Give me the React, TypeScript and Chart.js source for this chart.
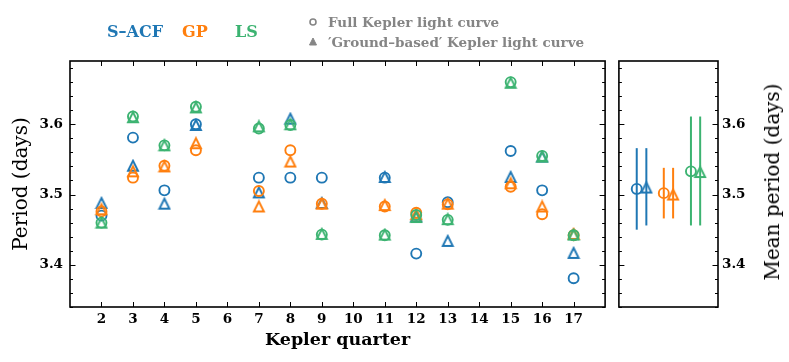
import React, { useEffect, useRef } from 'react';
import { Chart, registerables } from 'chart.js';

Chart.register(...registerables);

// ---------- data ----------
const quarters = [2, 3, 4, 5, 7, 8, 9, 11, 12, 13, 15, 16, 17];
const acfFull = [3.470, 3.581, 3.506, 3.600, 3.524, 3.524, 3.524, 3.524, 3.416, 3.489, 3.562, 3.506, 3.381];
const acfGround = [3.488, 3.541, 3.487, 3.599, 3.503, 3.608, 3.488, 3.525, 3.469, 3.434, 3.525, 3.554, 3.417];
const gpFull = [3.476, 3.524, 3.541, 3.563, 3.505, 3.563, 3.487, 3.483, 3.474, 3.486, 3.511, 3.472, 3.442];
const gpGround = [3.479, 3.533, 3.540, 3.573, 3.483, 3.547, 3.487, 3.485, 3.472, 3.487, 3.516, 3.483, 3.444];
const lsFull = [3.460, 3.611, 3.570, 3.625, 3.594, 3.599, 3.443, 3.442, 3.471, 3.464, 3.660, 3.555, 3.442];
const lsGround = [3.460, 3.610, 3.570, 3.624, 3.597, 3.600, 3.444, 3.443, 3.468, 3.465, 3.659, 3.554, 3.443];

const xTickValues = [2, 3, 4, 5, 6, 7, 8, 9, 10, 11, 12, 13, 14, 15, 16, 17];
const yTickValues = [3.4, 3.5, 3.6];

// mean panel: order = S-ACF full, S-ACF ground, GP full, GP ground, LS full, LS ground
const meanPositions = [0.18, 0.277, 0.453, 0.547, 0.727, 0.82];
const meanValues = [3.508, 3.510, 3.502, 3.500, 3.533, 3.532];
const meanLow = [3.450, 3.456, 3.466, 3.466, 3.456, 3.456];
const meanHigh = [3.566, 3.566, 3.538, 3.538, 3.611, 3.611];

const methodNames = ['S\u2013ACF', 'GP', 'LS'];
const curveNames = ['Full Kepler light curve', '\u2032Ground\u2013based\u2032 Kepler light curve'];

// ---------- styles ----------
const BLUE = '#1f77b4';
const ORANGE = '#ff7f0e';
const GREEN = '#3cb371';
const GREY = '#858585';
const methodColors = [BLUE, ORANGE, GREEN];
const meanColors = [BLUE, BLUE, ORANGE, ORANGE, GREEN, GREEN];
const meanIsTriangle = [false, true, false, true, false, true];

const Y_MIN = 3.34;
const Y_MAX = 3.69;
const SERIF = "'DejaVu Serif', 'Liberation Serif', serif";

function triangleImage(color: string): HTMLCanvasElement {
  const c = document.createElement('canvas');
  c.width = 14;
  c.height = 14;
  const ctx = c.getContext('2d')!;
  ctx.strokeStyle = color;
  ctx.lineWidth = 1.9;
  ctx.lineJoin = 'miter';
  ctx.beginPath();
  ctx.moveTo(7, 2);
  ctx.lineTo(12, 12);
  ctx.lineTo(2, 12);
  ctx.closePath();
  ctx.stroke();
  return c;
}

function drawYTicks(ctx: CanvasRenderingContext2D, y: any, left: number, right: number) {
  for (let k = 167; k <= 184; k++) {
    const v = k * 0.02;
    if (v < Y_MIN - 1e-9 || v > Y_MAX + 1e-9) continue;
    const p = Math.round(y.getPixelForValue(v)) + 0.5;
    const len = k % 5 === 0 ? 5.5 : 3;
    ctx.beginPath();
    ctx.moveTo(left, p);
    ctx.lineTo(left + len, p);
    ctx.moveTo(right, p);
    ctx.lineTo(right - len, p);
    ctx.stroke();
  }
}

const leftFramePlugin = {
  id: 'leftFrame',
  afterDatasetsDraw(chart: any) {
    const { ctx, chartArea: a, scales } = chart;
    ctx.save();
    ctx.strokeStyle = '#000';
    ctx.lineWidth = 1;
    drawYTicks(ctx, scales.y, a.left, a.right);
    xTickValues.forEach((v) => {
      const p = Math.round(scales.x.getPixelForValue(v)) + 0.5;
      ctx.beginPath();
      ctx.moveTo(p, a.bottom);
      ctx.lineTo(p, a.bottom - 5);
      ctx.moveTo(p, a.top);
      ctx.lineTo(p, a.top + 5);
      ctx.stroke();
    });
    ctx.lineWidth = 1.6;
    ctx.strokeRect(a.left, a.top, a.right - a.left, a.bottom - a.top);
    ctx.restore();
  },
};

const rightFramePlugin = {
  id: 'rightFrame',
  beforeDatasetsDraw(chart: any) {
    const { ctx, scales } = chart;
    ctx.save();
    ctx.lineWidth = 2;
    meanPositions.forEach((p, i) => {
      const px = scales.x.getPixelForValue(p);
      ctx.strokeStyle = meanColors[i];
      ctx.beginPath();
      ctx.moveTo(px, scales.y.getPixelForValue(meanLow[i]));
      ctx.lineTo(px, scales.y.getPixelForValue(meanHigh[i]));
      ctx.stroke();
    });
    ctx.restore();
  },
  afterDatasetsDraw(chart: any) {
    const { ctx, chartArea: a, scales } = chart;
    ctx.save();
    ctx.strokeStyle = '#000';
    ctx.lineWidth = 1;
    drawYTicks(ctx, scales.y, a.left, a.right);
    ctx.lineWidth = 1.6;
    ctx.strokeRect(a.left, a.top, a.right - a.left, a.bottom - a.top);
    ctx.restore();
  },
};

export default function App() {
  const leftRef = useRef<HTMLCanvasElement>(null);
  const rightRef = useRef<HTMLCanvasElement>(null);

  useEffect(() => {
    const triangles = methodColors.map((c) => triangleImage(c));
    const circleSet = (data: number[], color: string) => ({
      data: quarters.map((q, i) => ({ x: q, y: data[i] })),
      pointStyle: 'circle',
      pointRadius: 5,
      pointBorderWidth: 1.9,
      pointBorderColor: color,
      pointBackgroundColor: 'rgba(0,0,0,0)',
      showLine: false,
    });
    const triSet = (data: number[], img: HTMLCanvasElement) => ({
      data: quarters.map((q, i) => ({ x: q, y: data[i] })),
      pointStyle: img,
      pointRadius: 5,
      showLine: false,
    });

    const tickFont = { family: SERIF, size: 13.5, weight: 'bold' as const };

    const left = new Chart(leftRef.current!, {
      type: 'scatter',
      data: {
        datasets: [
          circleSet(lsFull, GREEN),
          triSet(lsGround, triangles[2]),
          circleSet(gpFull, ORANGE),
          triSet(gpGround, triangles[1]),
          circleSet(acfFull, BLUE),
          triSet(acfGround, triangles[0]),
        ] as any,
      },
      options: {
        animation: false,
        responsive: false,
        maintainAspectRatio: false,
        events: [],
        layout: { padding: { top: 61, right: 4, left: 0, bottom: 0 } },
        plugins: { legend: { display: false }, tooltip: { enabled: false } },
        scales: {
          x: {
            type: 'linear',
            min: 1,
            max: 18,
            afterBuildTicks: (s: any) => {
              s.ticks = xTickValues.map((v) => ({ value: v }));
            },
            afterFit: (s: any) => {
              s.height = 55;
            },
            grid: { display: false, drawTicks: false },
            border: { display: false },
            ticks: { font: tickFont, color: '#000', padding: 4, autoSkip: false, maxRotation: 0, callback: (v: any) => String(v) },
            title: {
              display: true,
              text: 'Kepler quarter',
              color: '#000',
              font: { family: SERIF, size: 17.5, weight: 'bold' },
              padding: { top: 0, bottom: 11 },
            },
          },
          y: {
            type: 'linear',
            min: Y_MIN,
            max: Y_MAX,
            afterBuildTicks: (s: any) => {
              s.ticks = yTickValues.map((v) => ({ value: v }));
            },
            afterFit: (s: any) => {
              s.width = 70;
            },
            grid: { display: false, drawTicks: false },
            border: { display: false },
            ticks: { font: tickFont, color: '#000', padding: 7, callback: (v: any) => Number(v).toFixed(1) },
            title: {
              display: true,
              text: 'Period (days)',
              color: '#000',
              font: { family: SERIF, size: 20, weight: 'normal' },
              padding: { top: 10, bottom: 0 },
            },
          },
        },
      },
      plugins: [leftFramePlugin],
    });

    const meanSets = meanPositions.map((p, i) => {
      const m = Math.floor(i / 2);
      return meanIsTriangle[i]
        ? {
            data: [{ x: p, y: meanValues[i] }],
            pointStyle: triangles[m],
            pointRadius: 5,
            showLine: false,
          }
        : {
            data: [{ x: p, y: meanValues[i] }],
            pointStyle: 'circle',
            pointRadius: 5,
            pointBorderWidth: 1.9,
            pointBorderColor: meanColors[i],
            pointBackgroundColor: 'rgba(0,0,0,0)',
            showLine: false,
          };
    });

    const right = new Chart(rightRef.current!, {
      type: 'scatter',
      data: { datasets: meanSets as any },
      options: {
        animation: false,
        responsive: false,
        maintainAspectRatio: false,
        events: [],
        layout: { padding: { top: 61, right: 0, left: 6, bottom: 55 } },
        plugins: { legend: { display: false }, tooltip: { enabled: false } },
        scales: {
          x: { type: 'linear', min: 0, max: 1, display: false },
          y: {
            type: 'linear',
            position: 'right',
            min: Y_MIN,
            max: Y_MAX,
            afterBuildTicks: (s: any) => {
              s.ticks = yTickValues.map((v) => ({ value: v }));
            },
            afterFit: (s: any) => {
              s.width = 71;
            },
            grid: { display: false, drawTicks: false },
            border: { display: false },
            ticks: { font: tickFont, color: '#000', padding: 4, callback: (v: any) => Number(v).toFixed(1) },
          },
        },
      },
      plugins: [rightFramePlugin],
    });

    return () => {
      left.destroy();
      right.destroy();
    };
  }, []);

  const legendBold = { fontFamily: SERIF, fontWeight: 'bold' as const, whiteSpace: 'nowrap' as const, position: 'absolute' as const };

  return (
    <div style={{ position: 'absolute', left: 0, top: 0, width: 789, height: 362, background: '#fff', overflow: 'hidden' }}>
      <canvas ref={leftRef} width={612} height={362} style={{ position: 'absolute', left: 0, top: 0, width: 612, height: 362 }} />
      <canvas ref={rightRef} width={177} height={362} style={{ position: 'absolute', left: 612, top: 0, width: 177, height: 362 }} />

      {/* method legend */}
      <span style={{ ...legendBold, left: 107, top: 22, fontSize: 16, lineHeight: '20px', color: BLUE }}>{methodNames[0]}</span>
      <span style={{ ...legendBold, left: 182, top: 22, fontSize: 16, lineHeight: '20px', color: ORANGE }}>{methodNames[1]}</span>
      <span style={{ ...legendBold, left: 235, top: 22, fontSize: 16, lineHeight: '20px', color: GREEN }}>{methodNames[2]}</span>

      {/* curve legend */}
      <svg width={14} height={14} style={{ position: 'absolute', left: 306, top: 15 }}>
        <circle cx={7} cy={7} r={3} fill="none" stroke={GREY} strokeWidth={1.6} />
      </svg>
      <svg width={14} height={14} style={{ position: 'absolute', left: 306, top: 35 }}>
        <polygon points="7,3 10.5,10 3.5,10" fill={GREY} stroke={GREY} strokeWidth={1} />
      </svg>
      <span style={{ ...legendBold, left: 328, top: 13, fontSize: 13.5, lineHeight: '18px', color: GREY }}>{curveNames[0]}</span>
      <span style={{ ...legendBold, left: 328, top: 33, fontSize: 13.5, lineHeight: '18px', color: GREY }}>{curveNames[1]}</span>

      {/* right axis title */}
      <div
        style={{
          position: 'absolute',
          left: 772,
          top: 182,
          transform: 'translate(-50%, -50%) rotate(-90deg)',
          fontFamily: SERIF,
          fontSize: 20,
          lineHeight: '24px',
          whiteSpace: 'nowrap',
          color: '#000',
        }}
      >
        Mean period (days)
      </div>
    </div>
  );
}
